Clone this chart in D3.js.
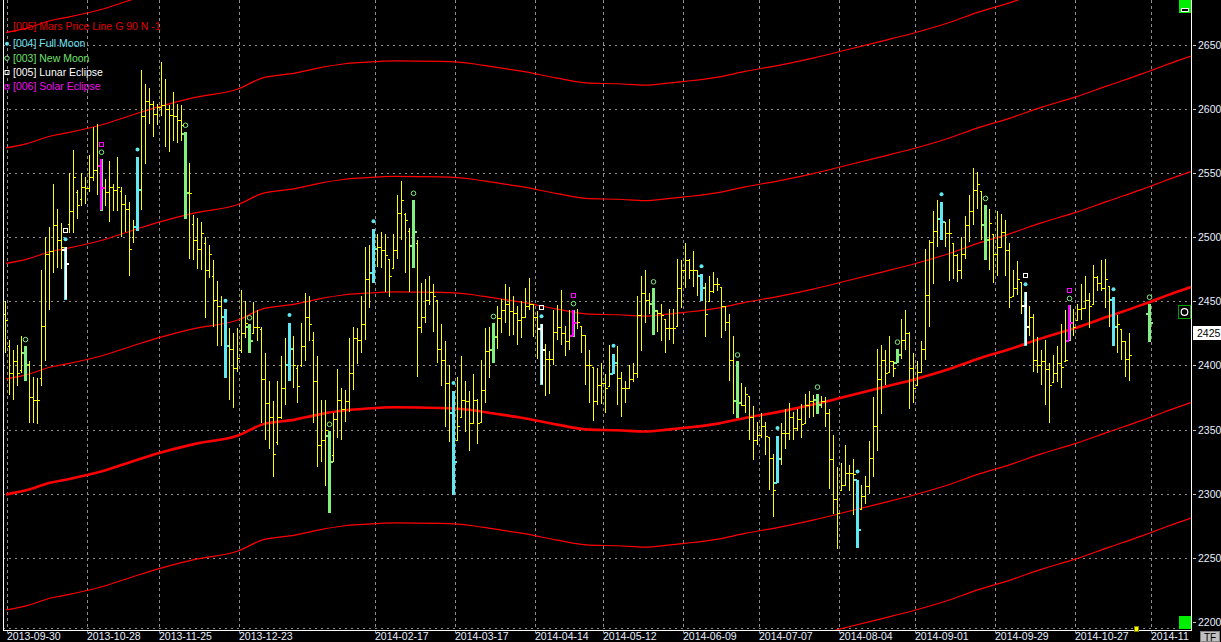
<!DOCTYPE html>
<html><head><meta charset="utf-8">
<script src="https://cdn.jsdelivr.net/npm/d3@7"></script>
<style>html,body{margin:0;padding:0;background:#000;overflow:hidden}svg{display:block}</style>
</head><body>
<svg id="c" width="1221" height="642"></svg>
<script>
// ---- DATA (daily OHLC, bar index 0..286; null = no bar) ----
const opens = [
2440,2415,2394,2403,2396,2410,2400,2375,2373,2390,
2431,2487,2489,2509,2498,2490,2510,2520,2535,2530,
2539,2538,2547,2552,2555,2538,2535,2539,2537,2536,
2526,2522,2500,2508,2537,2594,2606,2604,2596,2601,
2603,2600,2595,2594,2591,2580,2534,2510,2498,2491,
2495,2474,2470,2451,2446,2438,2415,2413,2398,2412,
2425,2430,2425,2430,2428,2389,2371,2360,2340,2360,
2382,2400,2413,2398,2400,2415,2438,2420,2388,2338,
2342,2345,2330,2358,2373,2366,2372,2394,2421,2420,
2432,2467,2472,2491,2492,2490,2483,2476,2490,2519,
2518,2505,2493,2495,2430,2438,2451,2457,2451,2413,
2404,2386,2363,2342,2360,2373,2372,2355,2373,2356,
2381,2411,2412,2422,2437,2443,2448,2442,2441,2435,
2438,2446,2448,2438,2428,2412,2405,2405,2426,2430,
2425,2419,2423,2433,2431,2424,2400,2399,2372,2385,
2386,2384,2393,2402,2390,2382,2382,2389,2394,2439,
2456,2451,2448,2442,2441,2436,2429,2429,2431,2460,
2474,2482,2474,2474,2470,2460,2450,2458,2463,2461,
2446,2434,2404,2372,2371,2369,2376,2360,2342,2346,
2353,2344,2328,2308,2327,2347,2347,2360,2351,2358,
2355,2369,2372,2373,2369,2372,2363,2327,2296,2303,
2307,2316,2316,2311,2288,2298,2306,2328,2353,2389,
2404,2395,2403,2402,2408,2420,2425,2398,2385,2395,
2413,2455,2496,2505,2514,2512,2503,2495,2486,2474,
2487,2509,2520,2537,2536,2509,2498,2502,2487,2492,
2504,2490,2454,2460,2465,2446,2430,2438,2404,2400,
2403,2397,2387,2394,2402,2403,2419,2433,2435,2444,
2445,2451,2448,2469,2464,2460,2462,2451,2430,2428,
2419,2405,null,null,null,null,2440];
const highs = [
2450,2420,2412,2416,2423,2415,2403,2391,2390,2474,
2500,2508,2541,2522,2511,2492,2550,2568,2537,2550,
2547,2564,2586,2588,2561,2545,2559,2541,2562,2539,
2533,2527,2513,2562,2630,2619,2616,2606,2604,2636,
2623,2603,2613,2604,2603,2582,2558,2517,2515,2512,
2500,2494,2482,2466,2454,2444,2429,2425,2429,2459,
2450,2432,2449,2443,2430,2410,2388,2372,2388,2407,
2421,2433,2423,2400,2433,2456,2454,2426,2407,2373,
2373,2349,2363,2397,2382,2381,2421,2430,2429,2454,
2492,2494,2506,2502,2504,2502,2483,2502,2533,2544,
2519,2507,2529,2498,2464,2467,2470,2463,2451,2432,
2419,2400,2380,2391,2407,2388,2380,2393,2374,2404,
2429,2430,2433,2446,2452,2463,2461,2454,2446,2450,
2460,2468,2448,2442,2432,2417,2411,2443,2447,2459,
2431,2443,2443,2444,2431,2424,2412,2399,2398,2402,
2393,2416,2409,2415,2395,2388,2400,2402,2454,2470,
2474,2456,2460,2443,2448,2436,2444,2444,2483,2482,
2495,2483,2489,2474,2471,2464,2470,2473,2468,2461,
2446,2440,2423,2403,2386,2383,2376,2368,2356,2363,
2356,2344,2331,2345,2355,2366,2371,2364,2366,2370,
2378,2380,2377,2378,2376,2375,2366,2346,2321,2324,
2338,2322,2327,2311,2307,2314,2341,2375,2413,2416,
2412,2423,2403,2413,2436,2443,2426,2410,2403,2419,
2491,2498,2520,2529,2527,2512,2514,2495,2487,2500,
2516,2533,2554,2551,2536,2525,2522,2502,2520,2518,
2513,2495,2474,2481,2465,2457,2446,2440,2422,2412,
2420,2402,2408,2415,2432,2443,2447,2444,2448,2463,
2470,2456,2478,2470,2482,2483,2462,2453,2439,2428,
2419,2425,null,null,null,null,2448];
const lows = [
2410,2377,2373,2384,2394,2388,2355,2355,2354,2384,
2403,2443,2472,2476,2475,2451,2503,2503,2514,2524,
2526,2535,2544,2533,2520,2524,2512,2520,2520,2500,
2504,2470,2495,2505,2521,2557,2588,2578,2587,2594,
2570,2566,2575,2573,2575,2514,2483,2482,2475,2474,
2437,2468,2430,2415,2415,2390,2373,2367,2395,2410,
2421,2410,2425,2419,2355,2342,2335,2313,2338,2358,
2369,2388,2382,2371,2399,2403,2419,2355,2321,2325,
2306,2285,2325,2343,2342,2356,2364,2381,2401,2410,
2420,2445,2464,2477,2476,2457,2453,2476,2483,2498,
2472,2457,2476,2391,2425,2433,2447,2426,2402,2384,
2352,2340,2299,2342,2360,2348,2333,2355,2339,2356,
2371,2390,2402,2413,2425,2433,2423,2424,2416,2421,
2437,2443,2422,2405,2385,2376,2378,2400,2420,2416,
2407,2412,2422,2428,2410,2385,2371,2357,2369,2370,
2363,2384,2393,2369,2360,2371,2382,2387,2390,2411,
2433,2440,2424,2426,2419,2410,2420,2417,2431,2445,
2460,2467,2461,2454,2450,2422,2450,2456,2458,2421,
2427,2388,2362,2359,2368,2363,2342,2326,2338,2343,
2330,2303,2282,2308,2322,2335,2342,2342,2349,2343,
2355,2359,2360,2362,2367,2352,2304,2284,2257,2303,
2307,2302,2283,2258,2288,2292,2300,2313,2333,2362,
2385,2395,2391,2402,2405,2412,2366,2371,2385,2395,
2404,2430,2463,2492,2498,2492,2466,2467,2465,2467,
2483,2496,2509,2522,2498,2482,2474,2464,2470,2492,
2470,2445,2454,2455,2440,2415,2423,2395,2394,2385,
2369,2355,2387,2387,2382,2403,2419,2423,2435,2435,
2444,2429,2448,2458,2458,2445,2430,2415,2410,2404,
2391,2388,null,null,null,null,2418];
const closes = [
2435,2394,2403,2394,2410,2400,2375,2373,2373,2431,
2487,2489,2509,2498,2492,2479,2520,2547,2525,2539,
2538,2547,2552,2555,2538,2535,2539,2537,2539,2526,
2522,2491,2508,2537,2594,2606,2604,2596,2601,2603,
2600,2595,2594,2591,2587,2534,2534,2498,2491,2503,
2474,2487,2451,2446,2438,2415,2413,2398,2406,2425,
2433,2419,2430,2430,2389,2371,2360,2331,2360,2382,
2400,2413,2400,2384,2415,2438,2432,2388,2338,2342,
2350,2325,2358,2373,2366,2372,2394,2421,2420,2432,
2467,2472,2491,2492,2490,2486,2470,2490,2519,2529,
2513,2493,2504,2430,2438,2451,2457,2454,2413,2404,
2386,2363,2325,2353,2373,2372,2355,2373,2355,2381,
2411,2412,2422,2437,2443,2448,2442,2441,2435,2438,
2446,2448,2438,2428,2412,2405,2405,2426,2430,2425,
2419,2423,2433,2434,2424,2400,2400,2372,2385,2386,
2382,2393,2402,2390,2382,2382,2389,2394,2439,2456,
2451,2448,2442,2441,2439,2429,2429,2429,2460,2474,
2482,2474,2474,2470,2460,2440,2458,2463,2463,2446,
2434,2404,2372,2371,2369,2378,2360,2342,2346,2353,
2345,2328,2303,2327,2347,2347,2360,2351,2358,2354,
2369,2372,2373,2369,2372,2363,2327,2296,2285,2307,
2316,2316,2315,2272,2298,2306,2328,2353,2389,2404,
2394,2403,2398,2408,2420,2425,2398,2382,2395,2413,
2455,2496,2505,2514,2512,2503,2503,2486,2474,2487,
2509,2520,2537,2541,2509,2498,2511,2487,2492,2504,
2490,2453,2460,2467,2446,2430,2438,2404,2400,2403,
2397,2385,2394,2402,2399,2404,2433,2430,2444,2445,
2451,2446,2469,2464,2460,2467,2451,2430,2432,2419,
2405,2408,null,null,null,null,2433];

// lunar events (bar indices)
const fullMoon = [15,33,55,71,92,112,134,152,174,193,213,234,255,277];
const newMoon = [5,24,45,61,81,102,122,142,162,183,203,223,245,266,286];
const lunarEclipse = [15,134,255];
const solarEclipse = [24,142,266];

// Mars price line (G 90): base curve, repeated every 90 points
const marsIdx = [0.25,5.5,11.25,15.5,23.75,32,38.75,47.5,58.25,64.25,72.5,78.25,85,89.25,97.5,108.75,117,121.25,129.5,138,146.25,153.25,160,165.75,170,178.25,185,195,202,210.5,218.75,227,235.5,243.75,250.75,259.25,267.5,275.75,284.25,292.5,296.5];
const marsVal = [2299.4,2302.8,2308.5,2311.1,2317.1,2325.3,2331.8,2338.8,2345.3,2353.8,2357.7,2361.6,2365.0,2366.0,2367.3,2366.8,2365.0,2362.9,2359.0,2353.8,2349.9,2349.4,2348.4,2349.9,2351.3,2354.6,2359.0,2364.7,2369.4,2375.9,2382.3,2388.8,2396.6,2405.6,2412.1,2421.2,2429.0,2438.0,2447.1,2456.7,2461.0];
const marsStep = 90;
const marsCopies = [-2,-1,0,1,2,3,4];

const priceTicks = [2200,2250,2300,2350,2400,2450,2500,2550,2600,2650];
const dateTickBars = [1,21,39,59,93,113,133,150,170,189,209,228,248,268,287];
const dateTickLabels = ["2013-09-30","2013-10-28","2013-11-25","2013-12-23","2014-02-17","2014-03-17","2014-04-14","2014-05-12","2014-06-09","2014-07-07","2014-08-04","2014-09-01","2014-09-29","2014-10-27","2014-11"];
const lastPrice = 2425;
const legendItems = [
  {label:"[005] Mars Price Line G 90 N -1", color:"#e00000", mark:null},
  {label:"[004] Full Moon", color:"#70e0f0", mark:"dot"},
  {label:"[003] New Moon", color:"#70e070", mark:"circle"},
  {label:"[005] Lunar Eclipse", color:"#ffffff", mark:"sqW"},
  {label:"[006] Solar Eclipse", color:"#ee10ee", mark:"sqM"}
];

// ---- DRAW ----
const W = 1221, H = 642;
const L = 3, R = 1191, B = 630;
const FONT = "'Liberation Sans', Arial, sans-serif";
const CYAN = "#60e8f2", GREEN = "#80f080", YEL = "#ffff00", MAG = "#ff00ff", RED = "#ff0000";

const svg = d3.select("#c");
svg.append("rect").attr("width", W).attr("height", H).attr("fill", "#000");
svg.append("defs").append("clipPath").attr("id", "clip")
  .append("rect").attr("x", L).attr("y", 0).attr("width", R - L).attr("height", B);

const x = d3.scaleLinear().domain([0, 296.5]).range([5, 1191]);
const y = d3.scaleLinear().domain([2200, 2650]).range([622, 44.5]);
const gridX = k => Math.round(x(k) - 1.7) + 0.5;

// grid
const grid = svg.append("g");
grid.selectAll("line.h").data(priceTicks.filter(v => v > 2200)).join("line")
  .attr("x1", L).attr("x2", R).attr("y1", d => Math.round(y(d)) + 0.5).attr("y2", d => Math.round(y(d)) + 0.5)
  .attr("stroke", "#8c8c8c").attr("stroke-width", 1).attr("stroke-dasharray", "2,4");
grid.selectAll("line.v").data(dateTickBars).join("line")
  .attr("x1", gridX).attr("x2", gridX).attr("y1", 0).attr("y2", B + 3)
  .attr("stroke", "#8c8c8c").attr("stroke-width", 1).attr("stroke-dasharray", "3,3");
grid.append("line").attr("x1", L).attr("x2", R).attr("y1", B - 1.5).attr("y2", B - 1.5)
  .attr("stroke", "#8c8c8c").attr("stroke-dasharray", "2,4");

const plot = svg.append("g").attr("clip-path", "url(#clip)");

// Mars lines
const marsPts = marsIdx.map((d, i) => [d, marsVal[i]]);
const lineGen = d3.line().x(d => x(d[0])).y(d => y(d[1])).curve(d3.curveMonotoneX);
marsCopies.forEach(k => {
  plot.append("path")
    .attr("d", lineGen(marsPts.map(p => [p[0], p[1] + k * marsStep])))
    .attr("fill", "none").attr("stroke", RED)
    .attr("stroke-width", k === 0 ? 2.6 : 1.2);
});

// bars
const bars = d3.range(closes.length).filter(i => closes[i] !== null)
  .map(i => ({i, o: opens[i], h: highs[i], l: lows[i], c: closes[i]}));
const fmSet = new Set(fullMoon), nmSet = new Set(newMoon);
const leSet = new Set(lunarEclipse), seSet = new Set(solarEclipse);
const bx = d => Math.round(x(d.i));

const normal = bars.filter(d => !fmSet.has(d.i) && !nmSet.has(d.i));
const gb = plot.append("g").attr("shape-rendering", "crispEdges");
gb.selectAll("line.hl").data(normal).join("line")
  .attr("x1", d => bx(d) + 0.5).attr("x2", d => bx(d) + 0.5)
  .attr("y1", d => y(d.h)).attr("y2", d => y(d.l)).attr("stroke", YEL);
gb.selectAll("line.o").data(normal).join("line")
  .attr("x1", d => bx(d) - 1).attr("x2", d => bx(d) + 0.5)
  .attr("y1", d => Math.round(y(d.o)) + 0.5).attr("y2", d => Math.round(y(d.o)) + 0.5).attr("stroke", YEL);
gb.selectAll("line.c").data(normal).join("line")
  .attr("x1", d => bx(d) + 0.5).attr("x2", d => bx(d) + 2.5)
  .attr("y1", d => Math.round(y(d.c)) + 0.5).attr("y2", d => Math.round(y(d.c)) + 0.5).attr("stroke", YEL);

// highlighted (moon) bars
const special = bars.filter(d => fmSet.has(d.i) || nmSet.has(d.i));
special.forEach(d => {
  const cx = bx(d);
  const base = fmSet.has(d.i) ? CYAN : GREEN;
  const top = Math.round(y(d.h)), bot = Math.round(y(d.l));
  gb.append("rect").attr("x", cx - 1).attr("y", top).attr("width", 3).attr("height", bot - top).attr("fill", base);
  if (leSet.has(d.i)) gb.append("rect").attr("x", cx).attr("y", top).attr("width", 2).attr("height", bot - top - 1).attr("fill", "#ffffff");
  if (seSet.has(d.i)) gb.append("rect").attr("x", cx - 1).attr("y", top).attr("width", 2).attr("height", bot - top - 1).attr("fill", MAG);
  const tc = leSet.has(d.i) ? "#ffffff" : (seSet.has(d.i) ? MAG : base);
  gb.append("rect").attr("x", cx - 3).attr("y", Math.round(y(d.o)) - 1).attr("width", 3).attr("height", 2).attr("fill", tc);
  gb.append("rect").attr("x", cx + 1).attr("y", Math.round(y(d.c)) - 1).attr("width", 3).attr("height", 2).attr("fill", tc);
});

// event markers
const gm = plot.append("g");
bars.filter(d => fmSet.has(d.i)).forEach(d => {
  gm.append("circle").attr("cx", bx(d) + 0.5).attr("cy", y(d.h) - 8).attr("r", 2).attr("fill", CYAN);
});
bars.filter(d => nmSet.has(d.i)).forEach(d => {
  gm.append("circle").attr("cx", bx(d) + 0.5).attr("cy", y(d.h) - 6.5).attr("r", 2.3)
    .attr("fill", "none").attr("stroke", GREEN).attr("stroke-width", 1);
});
bars.filter(d => leSet.has(d.i)).forEach(d => {
  gm.append("rect").attr("x", bx(d) - 1.5).attr("y", Math.round(y(d.h)) - 18.5).attr("width", 4).attr("height", 4)
    .attr("fill", "none").attr("stroke", "#fff").attr("stroke-width", 1);
});
bars.filter(d => seSet.has(d.i)).forEach(d => {
  gm.append("rect").attr("x", bx(d) - 1.5).attr("y", Math.round(y(d.h)) - 16.5).attr("width", 4).attr("height", 4)
    .attr("fill", "none").attr("stroke", MAG).attr("stroke-width", 1);
});

// axes frame
svg.append("line").attr("x1", L + 0.5).attr("x2", L + 0.5).attr("y1", 0).attr("y2", B + 1).attr("stroke", "#fff");
svg.append("line").attr("x1", R + 0.5).attr("x2", R + 0.5).attr("y1", 0).attr("y2", B + 1).attr("stroke", "#fff");
svg.append("line").attr("x1", L).attr("x2", R + 1).attr("y1", B + 0.5).attr("y2", B + 0.5).attr("stroke", "#fff");

// right price axis
const ya = svg.append("g");
ya.selectAll("line").data(priceTicks).join("line")
  .attr("x1", R + 2).attr("x2", R + 5).attr("y1", d => Math.round(y(d)) + 0.5).attr("y2", d => Math.round(y(d)) + 0.5)
  .attr("stroke", "#c8c8c8");
ya.selectAll("text").data(priceTicks).join("text")
  .attr("x", 1198).attr("y", d => y(d) + 4).text(d => d)
  .attr("fill", "#e6eeff").attr("font-family", FONT).attr("font-size", "10.5px");

// last price box
svg.append("rect").attr("x", 1193).attr("y", Math.round(y(lastPrice)) - 7).attr("width", 28).attr("height", 14).attr("fill", "#fff");
svg.append("text").attr("x", 1197).attr("y", y(lastPrice) + 4).text(lastPrice)
  .attr("fill", "#000").attr("font-family", FONT).attr("font-size", "10.5px");

// date labels
svg.append("g").selectAll("text").data(dateTickBars).join("text")
  .attr("x", d => gridX(d) - 0.5).attr("y", 640).text((d, i) => dateTickLabels[i])
  .attr("fill", "#e6eeff").attr("font-family", FONT).attr("font-size", "10.5px");

// misc right-side widgets
svg.append("rect").attr("x", 1179).attr("y", 0).attr("width", 12).attr("height", 13).attr("fill", "#00ee00");
svg.append("rect").attr("x", 1181.5).attr("y", 8.5).attr("width", 7).attr("height", 3).attr("fill", "#000").attr("stroke", "#fff");
svg.append("rect").attr("x", 1179).attr("y", 616).attr("width", 12).attr("height", 13).attr("fill", "#00ee00");
svg.append("rect").attr("x", 1178.5).attr("y", 305.5).attr("width", 12).attr("height", 13).attr("fill", "#000").attr("stroke", "#00a000");
svg.append("circle").attr("cx", 1184.5).attr("cy", 312).attr("r", 3.3).attr("fill", "#000").attr("stroke", "#fff").attr("stroke-width", 1.2);
svg.append("rect").attr("x", 1134.5).attr("y", 626.5).attr("width", 4).attr("height", 5).attr("fill", "#ffff00").attr("stroke", "#808000");
svg.append("rect").attr("x", 1200.5).attr("y", 631.5).attr("width", 19).attr("height", 10).attr("fill", "#c0c0c0").attr("stroke", "#808080");
svg.append("text").attr("x", 1210).attr("y", 640.5).attr("text-anchor", "middle").text("TF")
  .attr("fill", "#000").attr("font-family", FONT).attr("font-size", "10px");

// legend
const lg = svg.append("g");
const baseY = [29.6, 47.3, 61.7, 76, 90.4];
legendItems.forEach((it, i) => {
  lg.append("text").attr("x", 13).attr("y", baseY[i]).text(it.label)
    .attr("fill", it.color).attr("font-family", FONT).attr("font-size", "10.5px");
  const my = baseY[i] - 3.5;
  if (it.mark === "dot") lg.append("circle").attr("cx", 7).attr("cy", my).attr("r", 2).attr("fill", CYAN);
  if (it.mark === "circle") lg.append("circle").attr("cx", 7).attr("cy", my).attr("r", 2.2).attr("fill", "none").attr("stroke", GREEN);
  if (it.mark === "sqW") lg.append("rect").attr("x", 5).attr("y", my - 2).attr("width", 4).attr("height", 4).attr("fill", "none").attr("stroke", "#fff");
  if (it.mark === "sqM") lg.append("rect").attr("x", 5).attr("y", my - 2).attr("width", 4).attr("height", 4).attr("fill", "none").attr("stroke", MAG);
});
</script>
</body></html>
